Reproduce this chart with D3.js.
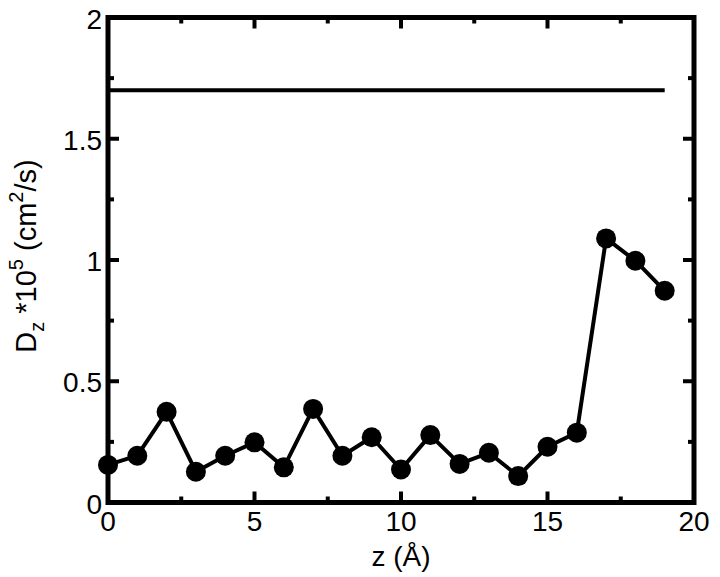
<!DOCTYPE html>
<html><head><meta charset="utf-8">
<script src="https://cdn.jsdelivr.net/npm/d3@7"></script>
<style>body{margin:0;background:#fff}svg{display:block}text{font-family:"Liberation Sans",Arial,sans-serif;fill:#000}</style>
</head><body><svg id="c" width="720" height="577"></svg>
<script>
const zValues = [0,1,2,3,4,5,6,7,8,9,10,11,12,13,14,15,16,17,18,19];
const dzValues = [0.155,0.193,0.374,0.127,0.193,0.248,0.145,0.386,0.193,0.269,0.136,0.278,0.159,0.205,0.109,0.23,0.288,1.089,0.997,0.873];
const refLineZ = [0,19];
const refLineD = [1.7,1.7];
const xTicks = [0,5,10,15,20];
const xMinor = [2.5,7.5,12.5,17.5];
const yTicks = [0,0.5,1,1.5,2];
const yTickLabels = ["0","0.5","1","1.5","2"];
const yMinor = [0.25,0.75,1.25,1.75];

const svg = d3.select("#c");
const L=108,R=694,T=17.5,B=502.5;
const x = d3.scaleLinear().domain([0,20]).range([L,R]);
const y = d3.scaleLinear().domain([0,2]).range([B,T]);

// ticks (inward, all four sides)
const tk = svg.append("g").attr("stroke","#000").attr("stroke-width",4);
function vt(v,len){
  tk.append("line").attr("x1",x(v)).attr("x2",x(v)).attr("y1",B).attr("y2",B-len);
  tk.append("line").attr("x1",x(v)).attr("x2",x(v)).attr("y1",T).attr("y2",T+len);
}
function ht(v,len){
  tk.append("line").attr("y1",y(v)).attr("y2",y(v)).attr("x1",L).attr("x2",L+len);
  tk.append("line").attr("y1",y(v)).attr("y2",y(v)).attr("x1",R).attr("x2",R-len);
}
xTicks.forEach(v=>vt(v,11)); xMinor.forEach(v=>vt(v,6));
yTicks.forEach(v=>ht(v,11)); yMinor.forEach(v=>ht(v,6));

// frame
svg.append("rect").attr("x",L).attr("y",T).attr("width",R-L).attr("height",B-T)
  .attr("fill","none").attr("stroke","#000").attr("stroke-width",5);

// tick labels
svg.append("g").selectAll("text").data(xTicks).join("text")
  .attr("x",d=>x(d)).attr("y",B+28).attr("text-anchor","middle").attr("font-size",28).text(d=>d);
svg.append("g").selectAll("text").data(yTicks).join("text")
  .attr("x",L-6).attr("y",d=>y(d)+11).attr("text-anchor","end").attr("font-size",28).text((d,i)=>yTickLabels[i]);

// reference line
const line = d3.line().x(d=>x(d[0])).y(d=>y(d[1]));
svg.append("path").datum(refLineZ.map((z,i)=>[z,refLineD[i]])).attr("d",line)
  .attr("fill","none").attr("stroke","#000").attr("stroke-width",4);

// data
const pts = zValues.map((z,i)=>[z,dzValues[i]]);
svg.append("path").datum(pts).attr("d",line).attr("fill","none").attr("stroke","#000")
  .attr("stroke-width",4).attr("stroke-linejoin","round");
svg.append("g").selectAll("circle").data(pts).join("circle")
  .attr("cx",d=>x(d[0])).attr("cy",d=>y(d[1])).attr("r",10).attr("fill","#000");

// axis labels
svg.append("text").attr("x",(L+R)/2).attr("y",566).attr("text-anchor","middle").attr("font-size",28).text("z (Å)");
const yl = svg.append("text").attr("transform",`translate(36,256) rotate(-90)`)
  .attr("text-anchor","middle").attr("font-size",29).attr("xml:space","preserve");
yl.append("tspan").text("D");
yl.append("tspan").attr("font-size",20).attr("dy",8).text("z");
yl.append("tspan").attr("dy",-8).text(" *10");
yl.append("tspan").attr("font-size",20).attr("dy",-13).text("5");
yl.append("tspan").attr("dy",13).text(" (cm");
yl.append("tspan").attr("font-size",20).attr("dy",-13).text("2");
yl.append("tspan").attr("dy",13).text("/s)");
</script></body></html>
